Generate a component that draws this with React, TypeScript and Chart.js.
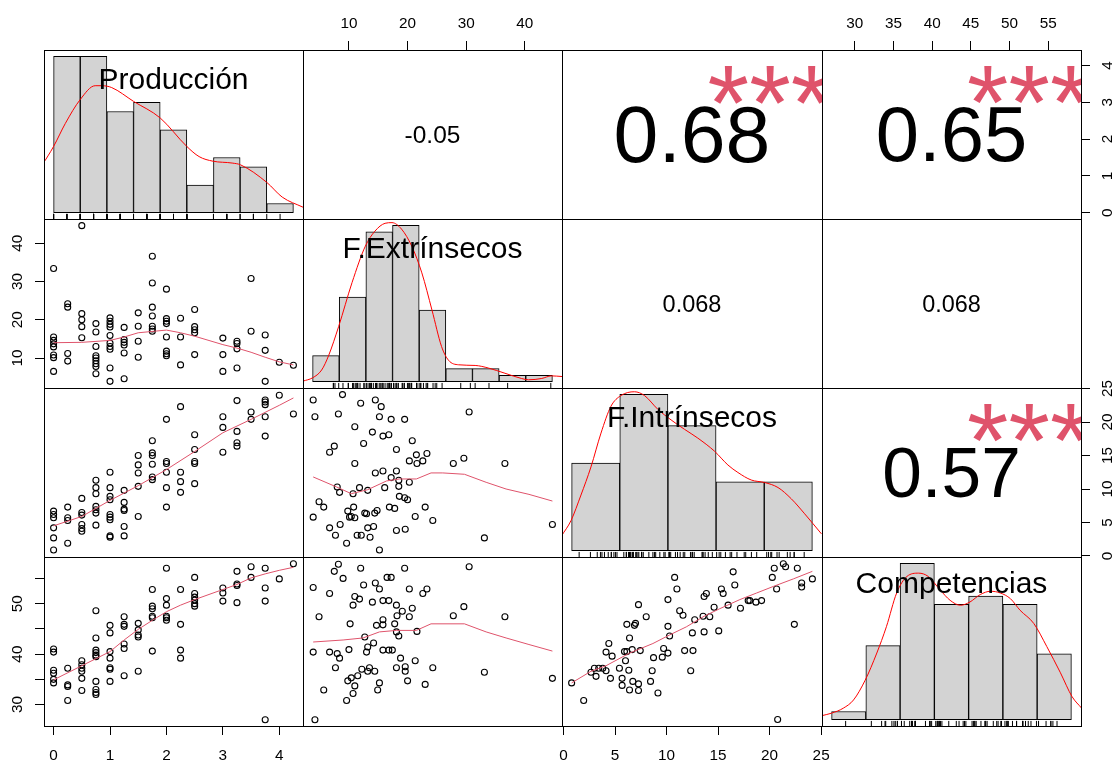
import React, { useEffect, useRef } from 'react';
import { Chart, registerables } from 'chart.js';

Chart.register(...registerables);

const FONT = '"Liberation Sans", Arimo, Arial, Helvetica, sans-serif';
const TICK_FONT_SIZE = 15.3;
const LABEL_FONT_SIZE = 30;
const STAR_COLOR = '#DF536B';
const SMOOTH_COLOR = '#DF536B';
const DENSITY_COLOR = '#FF0000';
const BAR_FILL = '#D3D3D3';

const COLS = [44, 303, 562, 822, 1081];
const ROWS = [50, 219, 388, 557, 726];
const MARGIN: Record<string, number> = { left: 44, top: 50, right: 31, bottom: 38 };
const EXTRA = 16; // spare canvas room so edge tick labels are not cut

// ---------------- data ----------------
const variableNames = ['Producción', 'F.Extrínsecos', 'F.Intrínsecos', 'Competencias'];

const prodLimits = [0, 4.25];
const extLimits = [3.8, 44.7];
const intLimits = [0.78, 24.15];
const compLimits = [27.0, 58.0];

const prodTicks = [0, 1, 2, 3, 4];
const extTicks = [10, 20, 30, 40];
const intTicks = [0, 5, 10, 15, 20, 25];
const compTicks = [30, 35, 40, 45, 50, 55];
const compLeftLabels = ['30', '', '40', '', '50', ''];

// histograms (counts per bin)
const prodBreaks = [0, 0.5, 1, 1.5, 2, 2.5, 3, 3.5, 4, 4.5];
const prodCounts = [17, 17, 11, 12, 9, 3, 6, 5, 1];
const extBreaks = [0, 5, 10, 15, 20, 25, 30, 35, 40, 45];
const extCounts = [4, 13, 23, 24, 11, 2, 2, 1, 1];
const intBreaks = [0, 5, 10, 15, 20, 25];
const intCounts = [14, 25, 20, 11, 11];
const compBreaks = [25, 30, 35, 40, 45, 50, 55, 60];
const compCounts = [1, 9, 19, 14, 15, 14, 8];

// density curves (in count units)
const prodDensX = [-0.21, 0, 0.22, 0.5, 0.78, 0.91, 1.09, 1.5, 2.0, 2.5, 2.73, 2.99, 3.35, 3.51, 4.0, 4.29, 4.68];
const prodDensY = [5.2, 7.2, 9.7, 12.3, 13.8, 13.8, 13.6, 12.1, 10.3, 7.2, 6.1, 5.6, 5.4, 5.2, 3.3, 1.7, 0.6];
const extDensX = [-1.8, 0, 1.7, 3.0, 4.9, 7.4, 9.9, 11.7, 13.6, 14.9, 16.7, 18.6, 20.5, 22.4, 24.2, 25.5, 27.4, 30.5, 33.0, 36.1, 39.2, 40.5, 43.0, 44.8, 46.8];
const extDensY = [0.1, 0.6, 1.8, 4.0, 8.5, 15.2, 20.8, 23.1, 24.3, 24.4, 23.4, 20.8, 16.7, 11.0, 5.4, 3.3, 2.6, 2.5, 2.1, 1.3, 0.5, 0.3, 0.5, 0.9, 0.8];
const intDensX = [-1.04, -0.07, 0.97, 2.01, 3.05, 4.09, 5.13, 6.52, 7.56, 8.95, 10.33, 11.72, 13.1, 14.84, 16.23, 17.27, 18.65, 20.04, 21.43, 22.81, 24.2, 25.94];
const intDensY = [2.4, 4.8, 8.9, 13.4, 18.8, 23.1, 24.8, 25.4, 24.8, 22.6, 20.9, 19.4, 18.0, 15.9, 13.7, 12.5, 11.3, 10.9, 10.1, 8.3, 5.9, 2.7];
const compDensX = [23.6, 25, 26.7, 28.2, 29.9, 31.6, 33.0, 34.5, 36.0, 37.7, 39.1, 40.8, 42.3, 43.8, 45.2, 46.7, 48.2, 49.6, 51.1, 52.5, 54.5, 56.4, 58.4, 60.1, 61.5];
const compDensY = [0.5, 0.8, 1.4, 2.4, 4.8, 8.1, 11.3, 15.4, 17.4, 17.8, 17.4, 15.8, 14.5, 13.9, 14.3, 15.2, 15.6, 15.4, 14.7, 13.3, 11.7, 8.9, 5.7, 2.8, 1.4];

// Producción is recorded in steps of 0.25
const prodLevels = [0, 0.25, 0.5, 0.75, 1, 1.25, 1.5, 1.75, 2, 2.25, 2.5, 3, 3.25, 3.5, 3.75, 4, 4.25];
const extByProd = [
  [33.4, 15.5, 14.6, 13.7, 12.9, 10.8, 10.1, 6.5],
  [24.2, 23.3, 11.2, 9.2],
  [44.6, 21.6, 20.0, 18.2, 15.3],
  [19.0, 16.8, 13.0, 10.6, 10.0, 9.3, 8.5, 7.8, 5.9],
  [20.5, 19.6, 18.8, 18.1, 15.9, 13.9, 13.0, 12.3, 7.4, 3.9],
  [18.0, 14.8, 14.1, 13.4, 11.3, 4.6],
  [21.8, 18.3, 14.4, 10.2],
  [36.6, 29.6, 23.3, 21.0, 18.3, 17.6, 17.0],
  [28.0, 20.3, 19.6, 19.0, 15.5, 11.8, 11.1, 10.6],
  [20.4, 15.5, 8.2],
  [22.7, 18.2, 17.4, 16.6, 10.9],
  [15.2, 10.9, 6.5],
  [14.4, 13.8, 12.4, 7.4],
  [30.8, 17.0],
  [16.0, 12.0, 3.9],
  [8.9],
  [8.1],
];
const intByProd = [
  [6.7, 6.2, 5.7, 4.2, 2.7, 0.9],
  [7.3, 5.7, 5.3, 1.9],
  [8.6, 6.5, 6.1, 4.7, 4.1, 3.7],
  [11.3, 10.2, 9.3, 7.4, 6.9, 6.4, 4.6],
  [12.5, 10.2, 8.9, 8.4, 6.2, 5.8, 5.4, 3.0, 2.8],
  [9.8, 8.0, 7.0, 6.8, 4.4, 3.0],
  [15.0, 13.6, 12.4, 10.4, 5.9],
  [17.2, 15.4, 15.0, 13.7, 11.8, 11.4],
  [20.4, 14.1, 13.8, 12.5, 10.2, 7.3],
  [22.3, 12.5, 11.1, 9.5],
  [18.1, 15.9, 14.1, 13.8, 10.8],
  [20.8, 19.2, 15.5],
  [23.2, 18.6, 16.9, 16.4],
  [21.5, 20.4],
  [23.3, 23.0, 22.6, 20.8, 17.9],
  [24.0],
  [21.2],
];
const compByProd = [
  [41.0, 40.4, 36.8, 36.2, 35.0, 34.3],
  [37.2, 33.9, 33.6, 30.8],
  [38.7, 37.9, 37.2, 36.6, 35.2, 32.8],
  [48.6, 43.2, 40.8, 40.3, 39.8, 39.5, 34.6, 33.0, 32.4, 32.0],
  [45.7, 44.2, 40.5, 39.2, 37.3, 37.0, 34.6],
  [47.4, 45.9, 45.5, 42.0, 41.1, 35.7],
  [46.1, 44.8, 43.8, 43.4, 36.6],
  [52.8, 49.5, 49.0, 47.5, 47.2, 40.6],
  [57.0, 51.0, 49.7, 47.5, 47.2, 46.7],
  [52.8, 45.9, 40.8, 39.2],
  [55.2, 52.0, 51.3, 50.7, 50.0, 49.5],
  [53.1, 52.1, 50.5],
  [56.4, 53.9, 53.6, 50.2],
  [57.3, 55.2],
  [57.0, 53.1, 50.5, 27.0],
  [54.9],
  [57.9],
];

// [F.Extrínsecos, F.Intrínsecos]
const extIntPairs: number[][] = [
  [3.9, 23.3], [8.9, 24.1], [12.0, 22.8], [14.5, 23.3], [15.5, 22.3], [4.2, 20.8], [8.2, 21.2], [15.2, 20.8], [17.2, 20.4], [19.5, 20.4],
  [11.0, 19.3], [14.0, 18.5], [15.8, 17.9], [16.8, 18.1], [20.8, 17.2], [30.5, 21.5], [12.5, 16.8], [7.5, 16.4], [6.7, 15.5], [18.1, 15.9],
  [21.5, 15.1], [23.3, 15.3], [20.3, 14.2], [21.6, 13.8], [22.6, 14.2], [27.8, 13.8], [29.6, 14.6], [36.6, 13.8], [11.0, 13.8], [14.5, 12.4],
  [15.8, 12.7], [18.1, 12.7], [17.2, 11.7], [18.5, 11.3], [20.3, 11.0], [8.0, 10.3], [8.4, 9.5], [10.7, 9.3], [11.8, 10.2], [13.2, 9.8],
  [16.1, 10.2], [18.5, 10.4], [18.6, 8.9], [19.5, 8.7], [20.0, 8.4], [4.9, 8.1], [5.7, 7.3], [9.8, 6.7], [10.8, 7.3], [10.4, 5.9],
  [10.1, 5.8], [11.0, 5.7], [12.7, 6.4], [13.0, 6.3], [14.4, 6.4], [14.8, 6.8], [16.9, 7.3], [17.8, 7.1], [23.0, 7.3], [3.9, 5.8],
  [21.3, 5.9], [24.3, 5.3], [6.7, 4.2], [8.5, 4.7], [7.7, 3.1], [9.6, 1.9], [11.4, 3.1], [12.1, 3.1], [13.6, 2.8], [13.2, 4.2],
  [14.2, 4.4], [18.1, 3.8], [19.6, 4.0], [15.2, 0.9], [33.1, 2.7], [44.7, 4.7],
];
// [F.Extrínsecos, Competencias]
const extCompPairs: number[][] = [
  [8.2, 57.8], [7.5, 56.4], [9.0, 55.0], [12.0, 57.0], [19.5, 57.0], [30.5, 57.3], [3.9, 53.2], [6.7, 52.0], [12.5, 53.7], [14.5, 54.1],
  [15.2, 52.9], [16.5, 55.2], [17.2, 55.2], [20.3, 52.9], [22.6, 52.0], [23.3, 52.9], [11.0, 51.4], [10.7, 49.7], [11.8, 50.9], [14.0, 50.3],
  [15.8, 50.6], [16.8, 50.6], [18.1, 49.7], [20.8, 49.1], [19.1, 48.5], [18.2, 47.6], [20.3, 47.4], [27.8, 47.6], [29.6, 49.4], [36.6, 47.4],
  [4.9, 47.4], [10.2, 46.0], [14.7, 45.7], [15.8, 45.8], [15.8, 46.8], [17.8, 46.0], [12.7, 43.4], [18.1, 44.4], [18.5, 43.6], [21.6, 44.5],
  [3.9, 40.4], [6.7, 40.4], [8.0, 40.1], [8.4, 39.2], [10.0, 40.9], [13.0, 40.4], [13.2, 41.4], [14.2, 42.2], [15.8, 40.8], [16.8, 40.8],
  [17.4, 40.8], [18.8, 39.2], [21.3, 38.7], [7.7, 37.3], [12.2, 37.0], [13.5, 37.3], [13.2, 36.6], [14.4, 36.6], [18.1, 37.3], [19.6, 37.5],
  [19.6, 36.6], [24.3, 37.3], [33.1, 36.4], [44.7, 35.2], [11.5, 35.7], [10.4, 35.3], [9.8, 34.7], [11.0, 33.7], [15.2, 34.3], [20.0, 34.7],
  [23.0, 34.0], [5.7, 32.9], [14.9, 32.9], [10.7, 32.2], [9.6, 30.8], [4.2, 27.0],
];
// [F.Intrínsecos, Competencias]
const intCompPairs: number[][] = [
  [0.78, 34.3], [1.95, 30.8], [2.66, 36.4], [2.99, 37.2], [3.15, 35.6], [3.41, 37.2], [3.8, 37.2], [4.12, 36.7], [4.55, 35.2], [4.39, 42.1],
  [4.12, 40.4], [4.71, 39.6], [5.42, 37.2], [5.68, 35.2], [5.68, 33.8], [5.91, 40.5], [6.14, 40.5], [6.01, 38.7], [6.4, 43.2], [6.33, 36.8],
  [6.4, 32.9], [6.66, 40.9], [6.72, 34.6], [7.27, 34.1], [7.27, 32.8], [6.14, 45.9], [6.88, 45.7], [6.98, 46.1], [7.27, 49.8], [7.44, 40.7],
  [8.02, 47.4], [8.44, 34.6], [8.6, 36.7], [8.73, 39.3], [9.16, 32.3], [9.58, 39.4], [9.71, 41.1], [10.13, 40.2], [10.13, 50.8], [10.13, 45.5],
  [10.29, 43.6], [10.78, 55.2], [11.0, 52.9], [11.27, 48.6], [11.59, 47.7], [11.75, 40.7], [12.34, 36.7], [12.56, 40.7], [12.73, 46.8], [12.5, 44.2],
  [13.64, 51.4], [13.86, 52.0], [13.54, 47.5], [13.64, 44.4], [14.19, 47.4], [14.61, 49.3], [15.06, 44.6], [15.32, 52.9], [15.49, 52.0], [15.97, 49.7],
  [16.46, 56.3], [16.62, 53.7], [17.17, 49.1], [17.92, 50.6], [18.08, 50.6], [18.67, 50.3], [19.22, 50.6], [20.26, 55.2], [20.45, 57.0], [20.68, 52.9],
  [21.33, 57.9], [21.55, 57.3], [22.4, 45.9], [22.69, 57.0], [23.11, 54.1], [23.11, 53.3], [24.15, 54.9], [20.78, 27.05],
];

// smoothers (lowess)
const prodExtSmoothX = [0, 0.5, 1, 1.25, 1.5, 2, 2.25, 2.5, 3, 3.25, 3.5, 3.75, 4, 4.25];
const prodExtSmoothY = [14.0, 14.1, 14.6, 15.5, 16.6, 17.3, 16.6, 15.7, 13.5, 12.6, 11.5, 10.2, 9.0, 8.2];
const prodIntSmoothX = [0, 0.5, 1, 1.5, 2, 2.5, 3, 3.5, 4, 4.25];
const prodIntSmoothY = [4.5, 5.9, 8.3, 10.5, 12.9, 15.6, 18.4, 20.4, 22.5, 23.6];
const prodCompSmoothX = [0, 0.5, 1, 1.25, 1.5, 1.75, 2, 2.25, 2.5, 3, 3.25, 3.5, 3.75, 4, 4.25];
const prodCompSmoothY = [34.9, 37.7, 40.5, 42.8, 44.9, 46.7, 48.4, 49.7, 50.8, 52.8, 53.8, 55.1, 55.9, 56.6, 57.2];
const extIntSmoothX = [3.9, 7.9, 10.4, 13.2, 16.4, 18.6, 21.5, 24.0, 26.0, 29.7, 33.4, 36.8, 40.7, 44.7];
const extIntSmoothY = [11.8, 10.3, 9.3, 9.9, 11.2, 11.5, 11.5, 12.4, 12.4, 12.2, 11.0, 10.0, 9.2, 8.2];
const extCompSmoothX = [3.9, 9.0, 12.4, 15.2, 18.1, 21.5, 24.0, 29.7, 33.4, 36.8, 40.7, 44.7];
const extCompSmoothY = [42.4, 42.8, 43.2, 44.4, 44.7, 44.7, 46.0, 46.0, 44.4, 43.2, 41.9, 40.6];
const intCompSmoothX = [0.78, 2.66, 4.12, 6.4, 8.67, 10.29, 11.91, 13.64, 15.16, 17.11, 18.73, 20.35, 22.3, 24.15];
const intCompSmoothY = [34.3, 36.6, 37.7, 40.2, 42.1, 43.8, 45.4, 47.5, 49.0, 50.8, 52.1, 53.4, 54.9, 56.4];

// correlations (upper panels)
const corrCells = [[0, 1], [0, 2], [0, 3], [1, 2], [1, 3], [2, 3]];
const corrLabels = ['-0.05', '0.68', '0.65', '0.068', '0.068', '0.57'];
const corrValues = [-0.05, 0.68, 0.65, 0.068, 0.068, 0.57];
const corrStars = ['', '***', '***', '', '', '***'];

// ---------------- helpers ----------------
const ext4 = (lim: number[]) => {
  const d = (lim[1] - lim[0]) * 0.04;
  return [lim[0] - d, lim[1] + d];
};
const varRanges = [ext4(prodLimits), ext4(extLimits), ext4(intLimits), ext4(compLimits)];

const groupedPoints = (levels: number[], groups: number[][]) =>
  levels.flatMap((lv, i) => groups[i].map((y) => ({ x: lv, y })));
const pairPoints = (pairs: number[][]) => pairs.map(([x, y]) => ({ x, y }));
const lineXY = (xs: number[], ys: number[]) => xs.map((x, i) => ({ x, y: ys[i] }));

const prodValues = prodLevels.flatMap((lv, i) => compByProd[i].map(() => lv));
const extValues = extIntPairs.map((p) => p[0]);
const intValues = intCompPairs.map((p) => p[0]);
const compValues = intCompPairs.map((p) => p[1]);

const hists = [
  { breaks: prodBreaks, counts: prodCounts, dx: prodDensX, dy: prodDensY, rug: prodValues },
  { breaks: extBreaks, counts: extCounts, dx: extDensX, dy: extDensY, rug: extValues },
  { breaks: intBreaks, counts: intCounts, dx: intDensX, dy: intDensY, rug: intValues },
  { breaks: compBreaks, counts: compCounts, dx: compDensX, dy: compDensY, rug: compValues },
];

const panelRect = (r: number, c: number) => ({
  l: COLS[c],
  t: ROWS[r],
  w: COLS[c + 1] - COLS[c],
  h: ROWS[r + 1] - ROWS[r],
});

interface AxisSpec {
  side: 'top' | 'bottom' | 'left' | 'right';
  ticks: number[];
  labels?: string[];
  padding: number;
}
interface PanelSpec {
  row: number;
  col: number;
  type: 'bar' | 'scatter';
  xRange: number[];
  yRange: number[];
  xHiddenTicks?: number[];
  axes: AxisSpec[];
  makeDatasets: () => any[];
}

const scatterDataset = (pts: { x: number; y: number }[]) => ({
  type: 'scatter',
  data: pts,
  pointStyle: 'circle',
  pointRadius: 3,
  pointBorderWidth: 1.1,
  pointBorderColor: '#000',
  pointBackgroundColor: 'rgba(0,0,0,0)',
  showLine: false,
  clip: 0,
  order: 2,
});
const smoothDataset = (pts: { x: number; y: number }[]) => ({
  type: 'line',
  data: pts,
  borderColor: SMOOTH_COLOR,
  borderWidth: 1,
  pointRadius: 0,
  tension: 0,
  fill: false,
  clip: 0,
  order: 1,
});

const axesFor = (r: number, c: number): AxisSpec[] => {
  const a: AxisSpec[] = [];
  if (r === 0 && c === 1) a.push({ side: 'top', ticks: extTicks, padding: 8 });
  if (r === 0 && c === 3) {
    a.push({ side: 'top', ticks: compTicks, padding: 8 });
    a.push({ side: 'right', ticks: prodTicks, padding: 13.2 });
  }
  if (r === 2 && c === 3) a.push({ side: 'right', ticks: intTicks, padding: 9 });
  if (r === 1 && c === 0) a.push({ side: 'left', ticks: extTicks, padding: 8.9 });
  if (r === 3 && c === 0) {
    a.push({ side: 'left', ticks: compTicks, labels: compLeftLabels, padding: 8.9 });
    a.push({ side: 'bottom', ticks: prodTicks, padding: 11.3 });
  }
  if (r === 3 && c === 2) a.push({ side: 'bottom', ticks: intTicks, padding: 11.3 });
  return a;
};

const lowerPanels = [
  { row: 1, col: 0, pts: () => groupedPoints(prodLevels, extByProd), sm: () => lineXY(prodExtSmoothX, prodExtSmoothY) },
  { row: 2, col: 0, pts: () => groupedPoints(prodLevels, intByProd), sm: () => lineXY(prodIntSmoothX, prodIntSmoothY) },
  { row: 3, col: 0, pts: () => groupedPoints(prodLevels, compByProd), sm: () => lineXY(prodCompSmoothX, prodCompSmoothY) },
  { row: 2, col: 1, pts: () => pairPoints(extIntPairs), sm: () => lineXY(extIntSmoothX, extIntSmoothY) },
  { row: 3, col: 1, pts: () => pairPoints(extCompPairs), sm: () => lineXY(extCompSmoothX, extCompSmoothY) },
  { row: 3, col: 2, pts: () => pairPoints(intCompPairs), sm: () => lineXY(intCompSmoothX, intCompSmoothY) },
];

const panels: PanelSpec[] = [];
// diagonal histograms
hists.forEach((hs, i) => {
  const br = hs.breaks;
  const maxC = Math.max(...hs.counts);
  const xRange = ext4([br[0], br[br.length - 1]]);
  const yRange = [-0.04 * maxC, 1.04 * maxC];
  const { h } = panelRect(i, i);
  panels.push({
    row: i,
    col: i,
    type: 'bar',
    xRange,
    yRange,
    xHiddenTicks: br,
    axes: [],
    makeDatasets: () => [
      {
        type: 'bar',
        data: hs.counts.map((cnt, k) => ({ x: (br[k] + br[k + 1]) / 2, y: cnt })),
        backgroundColor: BAR_FILL,
        borderColor: '#000',
        borderWidth: 1,
        borderSkipped: false,
        barPercentage: 1,
        categoryPercentage: 1,
        grouped: false,
        clip: 0,
        order: 3,
      },
      {
        type: 'scatter',
        data: hs.rug.map((v) => ({ x: v, y: yRange[0] + 0.015 * (yRange[1] - yRange[0]) })),
        pointStyle: 'line',
        pointRotation: 90,
        pointRadius: 0.015 * h,
        pointBorderWidth: 1,
        pointBorderColor: '#000',
        showLine: false,
        clip: 0,
        order: 2,
      },
      {
        type: 'line',
        data: lineXY(hs.dx, hs.dy),
        borderColor: DENSITY_COLOR,
        borderWidth: 1,
        pointRadius: 0,
        cubicInterpolationMode: 'monotone',
        fill: false,
        clip: 0,
        order: 1,
      },
    ],
  });
});
// lower scatter panels
lowerPanels.forEach((lp) => {
  panels.push({
    row: lp.row,
    col: lp.col,
    type: 'scatter',
    xRange: varRanges[lp.col],
    yRange: varRanges[lp.row],
    axes: axesFor(lp.row, lp.col),
    makeDatasets: () => [scatterDataset(lp.pts()), smoothDataset(lp.sm())],
  });
});
// upper panels that carry axes
[[0, 1], [0, 3], [2, 3]].forEach(([r, c]) => {
  panels.push({
    row: r,
    col: c,
    type: 'scatter',
    xRange: varRanges[c],
    yRange: varRanges[r],
    axes: axesFor(r, c),
    makeDatasets: () => [],
  });
});

function makeScale(axis: 'x' | 'y', range: number[], spec?: AxisSpec, hiddenTicks?: number[]) {
  const zeroPad = (s: any) => {
    s.paddingLeft = 0;
    s.paddingRight = 0;
    s.paddingTop = 0;
    s.paddingBottom = 0;
  };
  const base: any = { type: 'linear', min: range[0], max: range[1], bounds: 'data', offset: false, grace: 0 };
  if (!spec) {
    const tv = hiddenTicks || range;
    return {
      ...base,
      display: false,
      position: axis === 'x' ? 'bottom' : 'left',
      afterBuildTicks: (s: any) => {
        s.ticks = tv.map((v) => ({ value: v }));
      },
      afterFit: zeroPad,
    };
  }
  return {
    ...base,
    display: true,
    position: spec.side,
    afterBuildTicks: (s: any) => {
      s.ticks = spec.ticks.map((v) => ({ value: v }));
    },
    afterFit: (s: any) => {
      zeroPad(s);
      if (axis === 'x') s.height = MARGIN[spec.side];
      else s.width = MARGIN[spec.side];
    },
    grid: {
      display: true,
      drawOnChartArea: false,
      drawTicks: true,
      tickLength: 9,
      tickColor: '#000',
      tickWidth: 1,
      color: '#000',
      offset: false,
    },
    border: { display: false },
    ticks: {
      autoSkip: false,
      padding: spec.padding,
      color: '#000',
      font: { family: FONT, size: TICK_FONT_SIZE },
      minRotation: axis === 'y' ? 90 : 0,
      maxRotation: axis === 'y' ? 90 : 0,
      crossAlign: axis === 'y' ? 'center' : 'near',
      align: 'center',
      callback: (_v: any, i: number) => (spec.labels ? spec.labels[i] : String(spec.ticks[i])),
    },
  };
}

function PanelChart({ spec }: { spec: PanelSpec }) {
  const ref = useRef<HTMLCanvasElement | null>(null);
  const { l, t, w, h } = panelRect(spec.row, spec.col);
  const has = (s: string) => spec.axes.some((a) => a.side === s);
  const cl = l - (has('left') ? MARGIN.left : 0) - EXTRA;
  const ct = t - (has('top') ? MARGIN.top : 0) - EXTRA;
  const cw = w + (has('left') ? MARGIN.left : 0) + (has('right') ? MARGIN.right : 0) + 2 * EXTRA;
  const ch = h + (has('top') ? MARGIN.top : 0) + (has('bottom') ? MARGIN.bottom : 0) + 2 * EXTRA;

  useEffect(() => {
    if (!ref.current) return;
    const xAxis = spec.axes.find((a) => a.side === 'top' || a.side === 'bottom');
    const yAxis = spec.axes.find((a) => a.side === 'left' || a.side === 'right');
    const chart = new Chart(ref.current, {
      type: spec.type,
      data: { datasets: spec.makeDatasets() },
      options: {
        animation: false,
        responsive: false,
        maintainAspectRatio: false,
        events: [],
        layout: { padding: EXTRA, autoPadding: false },
        plugins: { legend: { display: false }, tooltip: { enabled: false } },
        scales: {
          x: makeScale('x', spec.xRange, xAxis, spec.xHiddenTicks),
          y: makeScale('y', spec.yRange, yAxis),
        },
      },
    } as any);
    return () => chart.destroy();
  }, []);

  return (
    <canvas
      ref={ref}
      width={cw}
      height={ch}
      style={{ position: 'absolute', left: cl, top: ct, width: cw, height: ch, display: 'block' }}
    />
  );
}

let measureCtx: CanvasRenderingContext2D | null = null;
function metrics(txt: string, size: number) {
  if (!measureCtx) measureCtx = document.createElement('canvas').getContext('2d');
  measureCtx!.font = `${size}px ${FONT}`;
  return measureCtx!.measureText(txt);
}

function Overlay() {
  const items: any[] = [];
  // panel frames
  for (let r = 0; r < 4; r++) {
    for (let c = 0; c < 4; c++) {
      const { l, t, w, h } = panelRect(r, c);
      items.push(
        <rect key={`f${r}${c}`} x={l + 0.5} y={t + 0.5} width={w} height={h} fill="none" stroke="#000" strokeWidth={1} />
      );
    }
  }
  // variable names on the diagonal
  variableNames.forEach((name, i) => {
    const { l, t, w, h } = panelRect(i, i);
    const m = metrics(name, LABEL_FONT_SIZE);
    const cy = t + h / 6;
    const base = cy + (m.actualBoundingBoxAscent - m.actualBoundingBoxDescent) / 2;
    items.push(
      <text key={`n${i}`} x={l + w / 2} y={base} textAnchor="middle" fontFamily={FONT} fontSize={LABEL_FONT_SIZE} fill="#000">
        {name}
      </text>
    );
  });
  // correlation values and stars
  corrCells.forEach(([r, c], k) => {
    const { l, t, w, h } = panelRect(r, c);
    const txt = corrLabels[k];
    const emW = metrics(txt, 100).width / 100;
    const baseSize = (0.8 * w) / emW;
    const fs = (baseSize * (Math.abs(corrValues[k]) + 0.3)) / 1.3;
    const m = metrics(txt, fs);
    const base = h / 2 + (m.actualBoundingBoxAscent - m.actualBoundingBoxDescent) / 2;
    const children: any[] = [
      <text key="v" x={w / 2} y={base} textAnchor="middle" fontFamily={FONT} fontSize={fs} fill="#000">
        {txt}
      </text>,
    ];
    if (corrStars[k]) {
      const sm = metrics(corrStars[k], baseSize);
      const sBase = 0.2 * h + 1 + (sm.actualBoundingBoxAscent - sm.actualBoundingBoxDescent) / 2;
      children.push(
        <text key="s" x={0.8 * w} y={sBase} textAnchor="middle" fontFamily={FONT} fontSize={baseSize} fill={STAR_COLOR}>
          {corrStars[k]}
        </text>
      );
    }
    items.push(
      <svg key={`c${k}`} x={l} y={t} width={w} height={h} overflow="hidden">
        {children}
      </svg>
    );
  });
  return (
    <svg
      width={1112}
      height={764}
      style={{ position: 'absolute', left: 0, top: 0, pointerEvents: 'none' }}
    >
      {items}
    </svg>
  );
}

export default function App() {
  return (
    <div
      style={{
        position: 'fixed',
        left: 0,
        top: 0,
        width: 1112,
        height: 764,
        background: '#fff',
        overflow: 'hidden',
      }}
    >
      {panels.map((p, i) => (
        <PanelChart key={i} spec={p} />
      ))}
      <Overlay />
    </div>
  );
}
